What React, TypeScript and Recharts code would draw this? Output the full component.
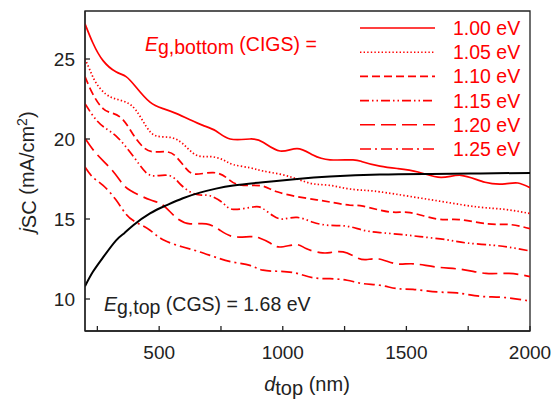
import React from "react";
import {
  LineChart, Line, XAxis, YAxis, ReferenceArea, Legend,
} from "recharts";

const RED = "#ff0000";
const INK = "#222";
const FONT = "'Liberation Sans', Arial, Helvetica, sans-serif";

// readings from the figure (d_top in nm, jSC in mA/cm2)
const X_100 = [200, 232, 273, 325, 366, 406, 463, 516, 568, 625, 677, 730, 787, 867, 920, 989, 1058, 1122, 1191, 1284, 1325, 1393, 1466, 1547, 1640, 1721, 1818, 1899, 1951, 2000];
const J_100 = [27.2, 26.0, 24.9, 24.2, 23.9, 23.25, 22.3, 21.9, 21.6, 21.2, 20.85, 20.5, 20.0, 20.0, 19.8, 19.25, 19.4, 19.0, 18.7, 18.7, 18.56, 18.3, 18.15, 17.94, 17.6, 17.73, 17.3, 17.2, 17.25, 16.96];

const X_105 = [200, 220, 245, 285, 325, 366, 406, 447, 487, 544, 596, 649, 706, 758, 800, 867, 920, 989, 1058, 1122, 1191, 1260, 1325, 1393, 1519, 1656, 1790, 1899, 2000];
const J_105 = [25.0, 24.3, 23.5, 22.8, 22.5, 22.3, 21.8, 20.8, 20.2, 20.1, 19.7, 19.0, 18.9, 18.7, 18.4, 18.2, 18.0, 17.8, 17.5, 17.2, 17.1, 16.9, 16.8, 16.7, 16.4, 16.06, 15.75, 15.6, 15.34];

const X_110 = [200, 232, 273, 313, 354, 394, 435, 475, 528, 568, 609, 649, 718, 771, 810, 867, 920, 977, 1058, 1137, 1191, 1272, 1325, 1434, 1515, 1624, 1713, 1830, 1919, 2000];
const J_110 = [23.9, 22.8, 21.9, 21.6, 21.2, 20.3, 19.5, 19.2, 19.2, 18.9, 18.15, 17.8, 17.9, 17.6, 17.2, 17.1, 17.05, 16.7, 16.4, 16.2, 16.06, 15.86, 15.8, 15.44, 15.4, 15.0, 14.96, 14.7, 14.65, 14.4];

const X_115 = [200, 245, 285, 325, 366, 406, 447, 487, 544, 584, 625, 665, 706, 758, 800, 880, 920, 961, 1001, 1058, 1122, 1191, 1260, 1325, 1393, 1474, 1555, 1664, 1745, 1850, 1931, 2000];
const J_115 = [22.2, 21.2, 20.65, 20.2, 19.5, 18.7, 17.9, 17.7, 17.7, 17.2, 16.7, 16.5, 16.45, 16.0, 15.6, 15.75, 15.65, 15.2, 15.0, 15.1, 14.8, 14.6, 14.55, 14.3, 14.15, 14.04, 13.9, 13.7, 13.5, 13.36, 13.2, 13.0];

const X_120 = [200, 245, 301, 342, 382, 463, 516, 568, 625, 690, 746, 800, 867, 908, 949, 989, 1054, 1094, 1151, 1191, 1244, 1297, 1337, 1389, 1458, 1527, 1620, 1729, 1822, 1915, 2000];
const J_120 = [20.05, 19.1, 18.2, 17.4, 16.8, 16.2, 15.86, 15.1, 14.7, 14.7, 14.3, 13.9, 13.9, 13.8, 13.5, 13.25, 13.4, 13.15, 12.9, 12.9, 12.94, 12.6, 12.46, 12.5, 12.2, 12.2, 12.0, 11.84, 11.6, 11.6, 11.4];

const X_125 = [200, 232, 273, 325, 366, 406, 463, 516, 596, 665, 730, 800, 867, 920, 989, 1058, 1122, 1191, 1260, 1325, 1393, 1462, 1527, 1624, 1705, 1798, 1891, 1988, 2000];
const J_125 = [18.25, 17.6, 17.1, 16.2, 15.3, 14.8, 14.3, 13.7, 13.25, 12.94, 12.6, 12.3, 12.1, 11.8, 11.73, 11.6, 11.33, 11.27, 11.17, 10.96, 10.86, 10.65, 10.6, 10.44, 10.38, 10.17, 10.1, 9.9, 9.85];

// top cell (CGS, 1.68 eV)
const X_TOP = [200, 232, 273, 325, 358, 394, 463, 528, 596, 665, 730, 800, 920, 1058, 1191, 1393, 1600, 1800, 2000];
const J_TOP = [10.8, 11.7, 12.6, 13.65, 14.1, 14.6, 15.35, 15.85, 16.3, 16.65, 16.9, 17.1, 17.3, 17.5, 17.65, 17.78, 17.82, 17.85, 17.88];

const X_TICKS = [250, 500, 750, 1000, 1250, 1500, 1750, 2000];
const Y_TICKS = [10, 15, 20, 25];

const toRows = (xs: number[], ys: number[]) => xs.map((x, i) => ({ x, j: ys[i] }));

const SERIES = [
  { name: "1.00 eV", data: toRows(X_100, J_100), dash: undefined },
  { name: "1.05 eV", data: toRows(X_105, J_105), dash: "1.4 2.2" },
  { name: "1.10 eV", data: toRows(X_110, J_110), dash: "8 4" },
  { name: "1.15 eV", data: toRows(X_115, J_115), dash: "9 3 1.5 3 1.5 3" },
  { name: "1.20 eV", data: toRows(X_120, J_120), dash: "15 6" },
  { name: "1.25 eV", data: toRows(X_125, J_125), dash: "11 4 2 4" },
];
const TOP = toRows(X_TOP, J_TOP);

function LegendBox() {
  return (
    <svg width={190} height={150} style={{ display: "block" }}>
      {SERIES.map((s, i) => {
        const y = 14 + i * 24.2;
        return (
          <g key={s.name}>
            <line x1={5} x2={80} y1={y} y2={y} stroke={RED} strokeWidth={1.6} strokeDasharray={s.dash} />
            <text x={98} y={y + 7} fill={RED} fontSize={19.5} fontFamily={FONT}>{s.name}</text>
          </g>
        );
      })}
    </svg>
  );
}

export default function App() {
  return (
    <div style={{ position: "absolute", left: 0, top: 0, width: 553, height: 400, background: "#fff" }}>
      <LineChart width={553} height={400} data={TOP} margin={{ top: 11, right: 23, bottom: 0, left: 0 }}>
        <XAxis
          dataKey="x" type="number" domain={[200, 2000]} ticks={X_TICKS} allowDataOverflow
          height={69} tickSize={-5} tickMargin={20} stroke={INK} strokeWidth={1.3}
          tick={{ fill: INK, fontSize: 19, fontFamily: FONT }}
          tickFormatter={(v) => (v % 500 === 0 ? String(v) : "")}
        />
        <YAxis
          type="number" domain={[8, 28]} ticks={Y_TICKS} allowDataOverflow
          width={85} tickSize={-5} tickMargin={15} stroke={INK} strokeWidth={1.3}
          tick={{ fill: INK, fontSize: 19, fontFamily: FONT }}
        />
        <ReferenceArea x1={200} x2={2000} y1={8} y2={28} fill="none" stroke={INK} strokeWidth={1.3} />
        {SERIES.map((s) => (
          <Line
            key={s.name} data={s.data} dataKey="j" type="natural" stroke={RED} strokeWidth={1.7}
            strokeDasharray={s.dash} dot={false} isAnimationActive={false}
          />
        ))}
        <Line data={TOP} dataKey="j" type="natural" stroke="#000" strokeWidth={2} dot={false} isAnimationActive={false} />
        <Legend
          layout="horizontal" align="center" verticalAlign="middle"
          wrapperStyle={{ left: 355, top: 14, width: 190 }}
          content={() => <LegendBox />}
        />
      </LineChart>

      {/* titles and annotations */}
      <svg width={553} height={400} style={{ position: "absolute", left: 0, top: 0, pointerEvents: "none" }} fontFamily={FONT}>
        <text x={145} y={51} fill={RED} fontSize={19.5}>
          <tspan fontStyle="italic">E</tspan>
          <tspan dy={3}>g,bottom</tspan>
          <tspan dy={-3}> (CIGS) =</tspan>
        </text>
        <text x={104} y={311} fill={INK} fontSize={19.5}>
          <tspan fontStyle="italic">E</tspan>
          <tspan dy={3}>g,top</tspan>
          <tspan dy={-3}> (CGS) = 1.68 eV</tspan>
        </text>
        <text x={307} y={391} fill={INK} fontSize={20} textAnchor="middle">
          <tspan fontStyle="italic">d</tspan>
          <tspan dy={4}>top</tspan>
          <tspan dy={-4}> (nm)</tspan>
        </text>
        <text transform="translate(34,172) rotate(-90)" fill={INK} fontSize={20} textAnchor="middle">
          <tspan fontStyle="italic">j</tspan>
          <tspan dy={2}>SC</tspan>
          <tspan dy={-2}> (mA/cm</tspan>
          <tspan dy={-7} fontSize={14}>2</tspan>
          <tspan dy={7}>)</tspan>
        </text>
      </svg>
    </div>
  );
}
